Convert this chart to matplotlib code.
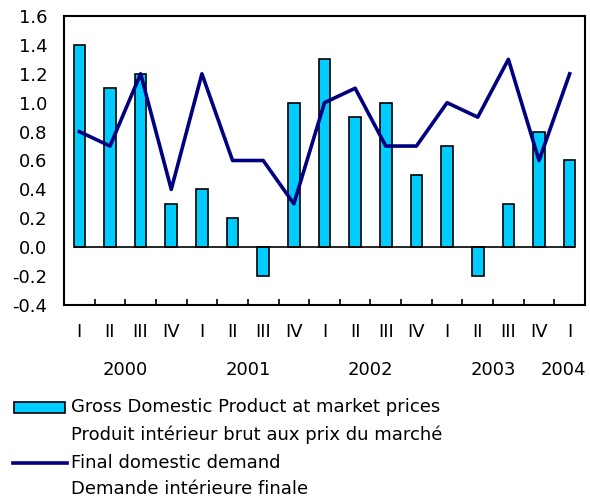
import matplotlib
matplotlib.use("Agg")
import matplotlib.pyplot as plt
from matplotlib.patches import Rectangle
from matplotlib.lines import Line2D
from matplotlib.transforms import blended_transform_factory

plt.rcParams['font.family'] = ['DejaVu Sans']

quarters = ["I", "II", "III", "IV", "I", "II", "III", "IV", "I", "II", "III", "IV",
            "I", "II", "III", "IV", "I"]
years = ["2000", "2001", "2002", "2003", "2004"]
year_pos = [1.5, 5.5, 9.5, 13.5, 15.8]
gdp = [1.4, 1.1, 1.2, 0.3, 0.4, 0.2, -0.2, 1.0, 1.3, 0.9, 1.0, 0.5, 0.7, -0.2, 0.3, 0.8, 0.6]
fdd = [0.8, 0.7, 1.2, 0.4, 1.2, 0.6, 0.6, 0.3, 1.0, 1.1, 0.7, 0.7, 1.0, 0.9, 1.3, 0.6, 1.2]
yticks = [-0.4, -0.2, 0.0, 0.2, 0.4, 0.6, 0.8, 1.0, 1.2, 1.4, 1.6]

FS = 13
W, H = 590, 499
fig = plt.figure(figsize=(W / 100, H / 100), dpi=100)
ax = fig.add_axes([64 / W, 1 - 305 / H, (585 - 64) / W, (305 - 16) / H])

x = list(range(len(gdp)))
bw = 0.38
ax.bar(x, gdp, width=bw, color="#00CCFF", edgecolor="black", linewidth=1.2, zorder=2)
ax.hlines(0, x[0] - bw / 2, x[-1] + bw / 2, color="black", linewidth=1.2, zorder=3)
ax.plot(x, fdd, color="#000080", linewidth=2.6, zorder=4)

ax.set_xlim(-0.5, len(gdp) - 0.5)
ax.set_ylim(-0.4, 1.6)
ax.set_yticks(yticks)
ax.set_yticklabels([f"{v:.1f}" for v in yticks], fontsize=FS)
ax.tick_params(axis="y", length=0, pad=12)

ax.set_xticks(x)
ax.set_xticklabels(quarters, fontsize=FS)
ax.tick_params(axis="x", which="major", length=0, pad=13)
ax.set_xticks([i + 0.5 for i in x[:-1]], minor=True)
ax.tick_params(axis="x", which="minor", direction="in", length=4, width=1.2)

for s in ax.spines.values():
    s.set_linewidth(1.5)

tr = blended_transform_factory(ax.transData, fig.transFigure)
for yl, xp in zip(years, year_pos):
    ax.text(xp, 1 - 370 / H, yl, transform=tr, ha="center", va="center", fontsize=FS)

# legend
fig.patches.append(Rectangle((14 / W, 1 - 413 / H), 51 / W, 11 / H, transform=fig.transFigure,
                             facecolor="#00CCFF", edgecolor="black", linewidth=1.2))
fig.lines.append(Line2D([13 / W, 67 / W], [1 - 463 / H, 1 - 463 / H], transform=fig.transFigure,
                        color="#000080", linewidth=2.6))
leg_text = [("Gross Domestic Product at market prices", 407),
            ("Produit intérieur brut aux prix du marché", 435),
            ("Final domestic demand", 463),
            ("Demande intérieure finale", 489)]
for t, yp in leg_text:
    fig.text(71 / W, 1 - yp / H, t, ha="left", va="center", fontsize=FS)

fig.savefig("out.png", dpi=100)
